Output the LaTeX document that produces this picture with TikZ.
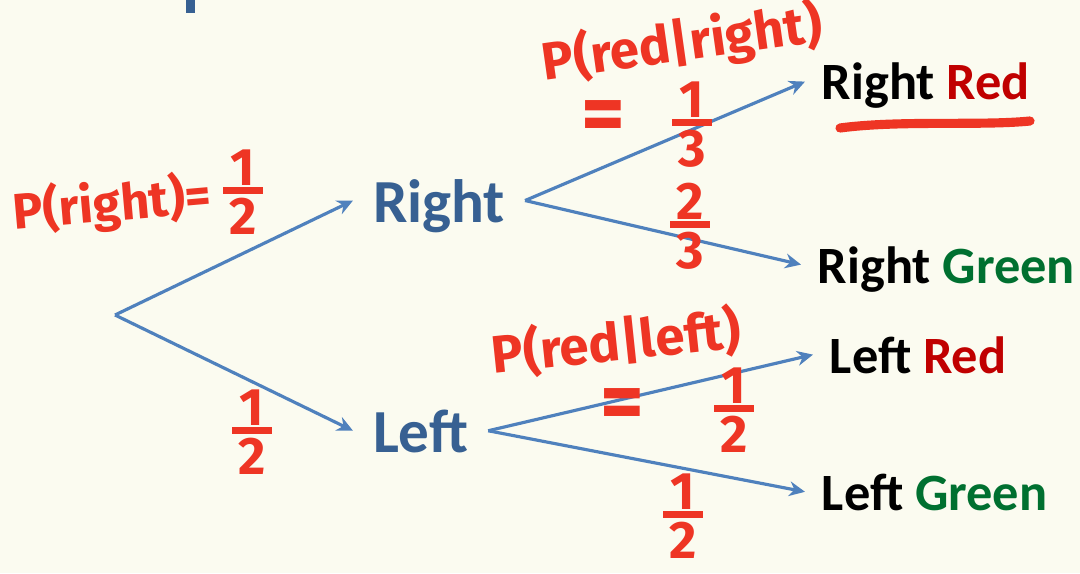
\documentclass[tikz,border=0pt]{standalone}
\usepackage{fontspec}
\setmainfont{Carlito}
\newfontfamily\handfont{Fira Sans}
\usetikzlibrary{arrows.meta,positioning}

\definecolor{paper}{RGB}{251,251,240}
\definecolor{branchblue}{RGB}{79,129,189}
\definecolor{stateblue}{RGB}{55,96,146}
\definecolor{inkred}{RGB}{238,53,36}
\definecolor{wordred}{RGB}{192,0,0}
\definecolor{wordgreen}{RGB}{0,112,48}

% stacked fraction for the hand notes
\newcommand{\hfrac}[2]{\begin{tabular}{@{}c@{}}#1\\[-10pt]\rule[0.3em]{0.75em}{0.13em}\\[-10pt]#2\end{tabular}}

\begin{document}
\begin{tikzpicture}[x=0.01cm,y=-0.01cm,>=Stealth,
  branch/.style={branchblue,line width=0.9pt,-{Stealth[length=4.5pt,width=4.2pt]}},
  state/.style={text=stateblue,font=\fontsize{17.4}{20}\selectfont\bfseries,inner sep=0pt,outer sep=5.7pt,text depth=0pt,anchor=base west},
  leaf/.style={font=\fontsize{14.9}{18}\selectfont\bfseries,inner sep=0pt,outer sep=4.8pt,text depth=0pt,anchor=base west},
  note/.style={text=inkred,font=\handfont\bfseries\fontsize{15}{17}\selectfont,inner sep=0pt,align=center},
  scribble/.style={inkred,line width=2.6pt,line cap=round}]
\useasboundingbox[fill=paper] (0,0) rectangle (1080,573);
% cut-off title glyph
\fill[stateblue] (186,0) rectangle (195,13);

% tree
\coordinate (root) at (115,315);
\node[state] (right) at (353,222) {Right};
\node[state] (left) at (353,452) {Left};
\node[leaf] (rr) at (805,100) {Right \textcolor{wordred}{Red}};
\node[leaf] (rg) at (801,283) {Right \textcolor{wordgreen}{Green}};
\node[leaf] (lr) at (813,373) {Left \textcolor{wordred}{Red}};
\node[leaf] (lg) at (805,510) {Left \textcolor{wordgreen}{Green}};

\draw[branch] (root) -- (right.west);
\draw[branch] (root) -- (left.west);
\draw[branch] (right.east) -- (rr.west);
\draw[branch] (right.east) -- (rg.west);
\draw[branch] (left.east) -- (lr.west);
\draw[branch] (left.east) -- (lg.west);

% hand notes
\node[note,rotate=5,scale=0.95] (pright) at (112,205) {P(right)=};
\node[note] (pright-val) at (243,198) {\hfrac12};
\node[note] (left-val) at (252,438) {\hfrac12};
\node[note,rotate=8] (rr-cond) at (682,44) {P(red|right)};
\node[note,scale=1.6] (rr-eq) at (603,122) {=};
\node[note] (rr-val) at (692,130) {\hfrac13};
\node[note] (rg-val) at (690,232) {\hfrac23};
\node[note,rotate=6] (lr-cond) at (616,342) {P(red|left)};
\node[note,scale=1.6] (lr-eq) at (622,410) {=};
\node[note] (lr-val) at (734,416) {\hfrac12};
\node[note] (lg-val) at (683,522) {\hfrac12};
\draw[scribble] (840,128) .. controls (900,120) and (980,126) .. (1030,121);
\end{tikzpicture}
\end{document}
